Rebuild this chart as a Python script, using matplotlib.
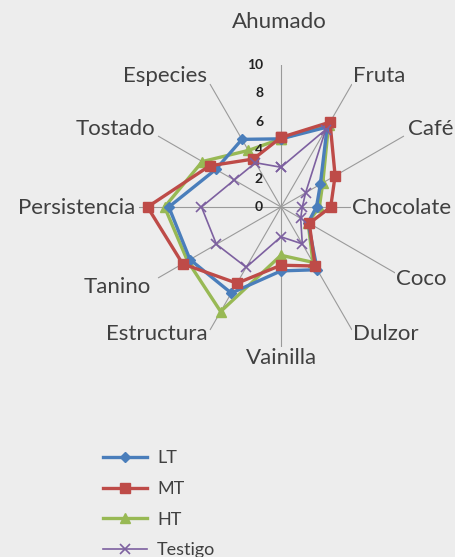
import numpy as np
import matplotlib
matplotlib.use("Agg")
import matplotlib.pyplot as plt
from matplotlib.lines import Line2D

# ---- data ----
categories = ['Ahumado', 'Fruta', 'Café', 'Chocolate', 'Coco', 'Dulzor',
              'Vainilla', 'Estructura', 'Tanino', 'Persistencia', 'Tostado', 'Especies']
LT = [4.8, 6.5, 3.2, 2.5, 2.2, 5.1, 4.5, 7.0, 7.4, 7.9, 5.3, 5.5]
MT = [4.9, 6.9, 4.4, 3.5, 2.3, 4.8, 4.1, 6.2, 8.0, 9.4, 5.8, 3.9]
HT = [4.8, 6.7, 3.4, 2.7, 2.2, 4.5, 3.4, 8.5, 7.6, 8.2, 6.4, 4.6]
Testigo = [2.8, 6.3, 2.0, 1.5, 1.6, 3.0, 2.1, 4.9, 5.25, 5.6, 3.8, 3.6]
series_names = ['LT', 'MT', 'HT', 'Testigo']
r_ticks = [0, 2, 4, 6, 8, 10]

# ---- style ----
W, H = 455, 557
BG = '#ededed'
TXT = '#404040'
plt.rcParams['font.family'] = ['Lato', 'DejaVu Sans']

fig = plt.figure(figsize=(W / 100, H / 100), dpi=100, facecolor=BG)
cx, cy, R = 281, 207, 142
ax = fig.add_axes([(cx - R) / W, (H - cy - R) / H, 2 * R / W, 2 * R / H], projection='polar')
ax.set_facecolor(BG)
ax.patch.set_alpha(0)
ax.set_theta_zero_location('N')
ax.set_theta_direction(-1)
ax.set_ylim(0, 10)

n = len(categories)
theta = np.arange(n) * 2 * np.pi / n
ax.set_xticks(theta)
ax.set_xticklabels([])
ax.set_yticks(r_ticks)
ax.set_yticklabels([])
ax.yaxis.grid(False)
ax.xaxis.grid(True, color='#9a9a9a', lw=0.8)
ax.spines['polar'].set_visible(False)

def closed(v):
    return list(v) + [v[0]]

th = list(theta) + [theta[0]]
styles = {
    'HT': dict(color='#98b954', marker='^', ms=7.5, lw=2.4, zorder=3),
    'LT': dict(color='#4a7ebb', marker='D', ms=5.5, lw=2.4, zorder=4),
    'MT': dict(color='#be4b48', marker='s', ms=6.5, lw=2.4, zorder=5),
    'Testigo': dict(color='#7d60a0', marker='x', ms=6.5, lw=1.2, mew=1.2, zorder=6),
}
data = {'LT': LT, 'MT': MT, 'HT': HT, 'Testigo': Testigo}
for name in ['HT', 'LT', 'MT', 'Testigo']:
    ax.plot(th, closed(data[name]), clip_on=False, **styles[name])

# radial tick labels
for v in r_ticks:
    ax.annotate(str(v), xy=(0, v), xytext=(-18, 0), textcoords='offset pixels',
                ha='right', va='center', fontsize=10, fontweight='bold',
                color='#222222', annotation_clip=False)

# category labels (pixel anchor positions and alignment)
label_layout = {
    'Ahumado': (279, 22, 'center'),
    'Fruta': (353, 76, 'left'),
    'Café': (408, 129, 'left'),
    'Chocolate': (352, 208, 'left'),
    'Coco': (396, 279, 'left'),
    'Dulzor': (353, 334, 'left'),
    'Vainilla': (282, 358, 'center'),
    'Estructura': (208, 334, 'right'),
    'Tanino': (151, 287, 'right'),
    'Persistencia': (135, 208, 'right'),
    'Tostado': (155, 129, 'right'),
    'Especies': (207, 76, 'right'),
}
for c in categories:
    x, y, ha = label_layout[c]
    fig.text(x / W, 1 - y / H, c, ha=ha, va='center', fontsize=16, color=TXT,
             bbox=dict(boxstyle='square,pad=0.05', fc=BG, ec='none'), zorder=10)

# legend
handles = [Line2D([], [], **{k: v for k, v in styles[s].items() if k != 'zorder'})
           for s in series_names]
leg = fig.legend(handles, series_names, loc='upper left',
                 bbox_to_anchor=(94 / W, 1 - 441 / H), frameon=False,
                 fontsize=13, labelcolor=TXT, handlelength=2.45,
                 handletextpad=0.55, labelspacing=0.82, borderpad=0)

fig.savefig('out.png', dpi=100, facecolor=BG)
